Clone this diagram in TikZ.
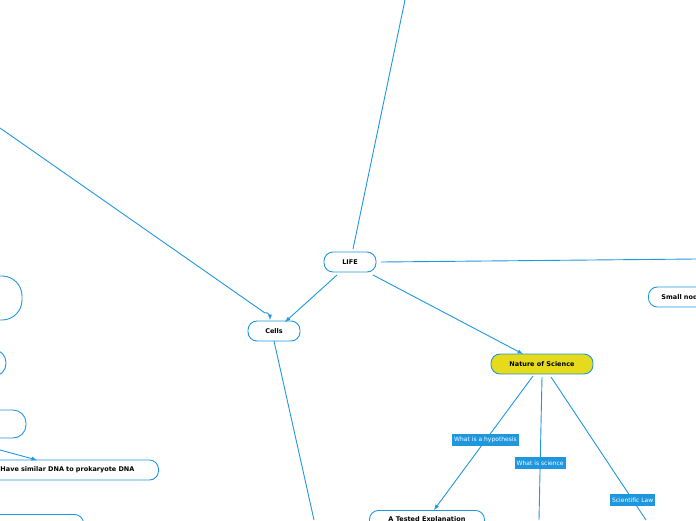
\documentclass[tikz,border=0pt]{standalone}
\usepackage{fontspec}
\setmainfont{DejaVu Sans}
\definecolor{mapblue}{HTML}{1F97DF}
\definecolor{mapyellow}{HTML}{E6DA1C}
\begin{document}
\begin{tikzpicture}[x=1pt,y=-1pt,draw=mapblue,line width=0.9pt,>=latex]
  \tikzstyle{topic}=[draw=mapblue, rounded corners=9pt, fill=white, minimum height=20pt, inner sep=2pt, font=\fontsize{6.5}{7}\selectfont\bfseries]
  \tikzstyle{main topic}=[topic, fill=mapyellow]
  \tikzstyle{tag}=[fill=mapblue, text=white, inner sep=2pt, minimum height=12pt, font=\fontsize{6}{7}\selectfont]

  \useasboundingbox (0,0) rectangle (696,520);
  \clip (0,0) rectangle (696,520);

  % central topics
  \node[topic, minimum width=52pt] (life) at (350,262) {LIFE};
  \node[topic, minimum width=52pt] (cells) at (274,331) {Cells};
  \node[main topic, minimum width=102pt] (nature) at (542,364) {Nature of Science};
  \node[topic, minimum width=80pt, anchor=west, text width=70pt] (small) at (648,297) {\hspace*{8pt}Small nodes};

  % partly visible topics on the left
  \node[topic, minimum width=80pt, minimum height=44pt, rounded corners=20pt] (left-a) at (-18,298) {};
  \node[topic, minimum width=60pt, minimum height=27pt, rounded corners=13pt] (left-b) at (-24,363) {};
  \node[topic, minimum width=80pt, minimum height=28pt, rounded corners=13pt] (left-c) at (-14,424) {};
  \node[topic, anchor=west, text width=174pt, align=left] (dna) at (-20,470) {\hspace*{18pt}Have similar DNA to prokaryote DNA};
  \node[topic, anchor=north east, minimum width=120pt] (left-e) at (84,514) {};
  \node[topic, anchor=north west, minimum width=115pt, minimum height=24pt] (tested) at (369,510) {\raisebox{6pt}{A Tested Explanation}};

  \coordinate (top-end) at (405,0);
  \coordinate (right-end) at (696,259);
  \coordinate (left-end) at (0,128);
  \coordinate (cells-end) at (314,520);
  \coordinate (science-end) at (539,520);
  \coordinate (law-end) at (646,520);
  \coordinate (dna-start) at (0,450);

  % connectors
  \draw (353,249) -- (top-end);
  \draw (381,262) -- (right-end);
  \draw[->] (337,275) -- (285,322);
  \draw[->] (left-end) -- (265,313) to[out=35,in=90] (270,320);
  \draw[->] (373,275) -- (523,354);
  \draw (274,341) -- (cells-end);
  \draw[->] (533,376) -- node[tag, pos=0.48] {What is a hypothesis} (434,510);
  \draw (542,377) -- node[tag, pos=0.6] {What is science} (science-end);
  \draw (551,377) -- node[tag, pos=0.86] {Scientific Law} (law-end);
  \draw[->] (dna-start) -- (37,460);
\end{tikzpicture}
\end{document}
